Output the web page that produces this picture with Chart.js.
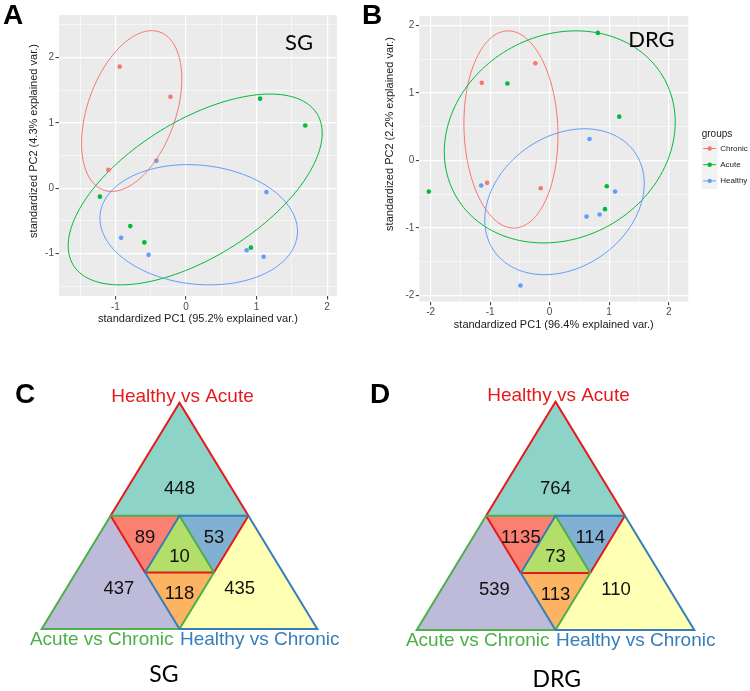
<!DOCTYPE html>
<html>
<head>
<meta charset="utf-8">
<script src="https://cdn.jsdelivr.net/npm/chart.js@4.4.1/dist/chart.umd.min.js"></script>
<style>
  html, body { margin: 0; padding: 0; background: #ffffff; }
  body { width: 750px; height: 691px; position: relative; overflow: hidden; }
  canvas { position: absolute; display: block; }
  .letter { position: absolute; font: bold 28px "Liberation Sans", Arial, sans-serif; line-height: 28px; color: #000; z-index: 5; }
</style>
</head>
<body>
<canvas id="cA" width="375" height="335" style="left:0;top:0"></canvas>
<canvas id="cB" width="375" height="335" style="left:375px;top:0"></canvas>
<canvas id="cC" width="375" height="356" style="left:0;top:335px"></canvas>
<canvas id="cD" width="375" height="356" style="left:375px;top:335px"></canvas>
<div class="letter" style="left:3px;top:1px">A</div>
<div class="letter" style="left:362px;top:1px">B</div>
<div class="letter" style="left:15px;top:380px">C</div>
<div class="letter" style="left:370px;top:380px">D</div>
<script>
// ---------------- DATA ----------------
const groupNames = ['Chronic', 'Acute', 'Healthy'];

// Panel A : SG PCA scores
const sgChronicX = [-0.94, -0.22, -1.10, -0.42];
const sgChronicY = [ 1.86,  1.40,  0.28,  0.42];
const sgAcuteX   = [-1.22, -0.79, -0.59, 0.92, 1.05, 1.69];
const sgAcuteY   = [-0.13, -0.58, -0.83, -0.91, 1.37, 0.96];
const sgHealthyX = [-0.92, -0.53, 0.86, 1.10, 1.14, -0.42];
const sgHealthyY = [-0.76, -1.02, -0.95, -1.05, -0.06, 0.42];
// ellipse summaries per group: [centre x, centre y, half-extent x, half-extent y, correlation]
const sgEllipseChronic = [-0.77, 1.18, 0.71, 1.23, 0.40];
const sgEllipseAcute   = [ 0.13, -0.02, 1.80, 1.46, 0.59];
const sgEllipseHealthy = [ 0.18, -0.56, 1.40, 0.92, -0.11];

// Panel B : DRG PCA scores
const drgChronicX = [-1.14, -0.24, -1.05, -0.15];
const drgChronicY = [ 1.15,  1.44, -0.33, -0.41];
const drgAcuteX   = [0.81, -0.71, 1.17, -2.03, 0.96, 0.93];
const drgAcuteY   = [1.89,  1.14, 0.65, -0.46, -0.38, -0.72];
const drgHealthyX = [0.67, -1.15, 1.10, 0.62, 0.84, -0.49];
const drgHealthyY = [0.32, -0.37, -0.46, -0.83, -0.80, -1.85];
const drgEllipseChronic = [-0.65, 0.46, 0.79, 1.46, -0.06];
const drgEllipseAcute   = [ 0.17, 0.35, 1.94, 1.57, 0.14];
const drgEllipseHealthy = [ 0.25, -0.61, 1.34, 1.08, 0.25];

// axis extents and titles
const sgRangeX = [-1.80, 2.14], sgRangeY = [-1.65, 2.65];
const drgRangeX = [-2.19, 2.33], drgRangeY = [-2.09, 2.14];
const sgTitleX = 'standardized PC1 (95.2% explained var.)';
const sgTitleY = 'standardized PC2 (4.3% explained var.)';
const drgTitleX = 'standardized PC1 (96.4% explained var.)';
const drgTitleY = 'standardized PC2 (2.2% explained var.)';

// Panels C, D : overlap diagrams
const vennSets = ['Healthy vs Acute', 'Acute vs Chronic', 'Healthy vs Chronic'];
const vennRegions = ['HA only', 'HA & AC', 'HA & HC', 'all three', 'AC only', 'AC & HC', 'HC only'];
const sgCounts  = [448, 89, 53, 10, 437, 118, 435];
const drgCounts = [764, 1135, 114, 73, 539, 113, 110];

// ---------------- STYLE / LAYOUT ----------------
const FONT = '"Liberation Sans", Arial, Helvetica, sans-serif';
const groupColors = ['#F8766D', '#00BA38', '#619CFF'];
Chart.defaults.font.family = FONT;

function pts(xs, ys) { return xs.map((x, i) => ({ x: x, y: ys[i] })); }
const isMajor = v => Math.abs(v - Math.round(v)) < 1e-9;

function axisCfg(range, fitFn, title) {
  const [mn, mx] = range;
  return {
    type: 'linear', min: mn, max: mx,
    afterBuildTicks: sc => {
      const t = [];
      for (let k = Math.ceil(mn * 2); k <= Math.floor(mx * 2); k++) t.push({ value: k / 2 });
      sc.ticks = t;
    },
    afterFit: fitFn,
    ticks: {
      autoSkip: false, maxRotation: 0, minRotation: 0, padding: 1.5,
      color: '#4D4D4D', font: { size: 10, family: FONT },
      callback: v => isMajor(v) ? String(Math.round(v)) : ''
    },
    grid: {
      drawTicks: true, tickLength: 3.5, tickWidth: 1,
      color: '#FFFFFF',
      lineWidth: c => (c.tick && isMajor(c.tick.value)) ? 1.2 : 0.55,
      tickColor: c => (c.tick && isMajor(c.tick.value)) ? '#333333' : 'rgba(0,0,0,0)'
    },
    border: { display: false },
    title: title ? { display: true, text: title, color: '#1a1a1a', font: { size: 11, family: FONT }, padding: { top: 2, bottom: 3 } } : { display: false }
  };
}

function pcaChart(id, series, ellipses, rx, ry, xTitle, yTitle, o) {
  const plugins = [{
    id: 'panelBg',
    beforeDraw(chart) {
      const { ctx, chartArea: a } = chart;
      ctx.save(); ctx.fillStyle = '#EBEBEB';
      ctx.fillRect(a.left, a.top, a.width, a.height); ctx.restore();
    }
  }, {
    id: 'ellipses',
    beforeDatasetsDraw(chart) {
      const { ctx, chartArea: a, scales: { x, y } } = chart;
      ctx.save();
      ctx.beginPath(); ctx.rect(a.left, a.top, a.width, a.height); ctx.clip();
      ellipses.forEach((e, i) => {
        const [cx, cy, sx, sy, r] = e;
        const k = Math.sqrt(1 - r * r);
        ctx.beginPath();
        for (let j = 0; j <= 160; j++) {
          const t = j / 160 * 2 * Math.PI;
          const px = x.getPixelForValue(cx + sx * Math.cos(t));
          const py = y.getPixelForValue(cy + sy * (r * Math.cos(t) + k * Math.sin(t)));
          if (j === 0) ctx.moveTo(px, py); else ctx.lineTo(px, py);
        }
        ctx.closePath();
        ctx.strokeStyle = groupColors[i]; ctx.lineWidth = 1; ctx.stroke();
      });
      ctx.restore();
    }
  }, {
    id: 'annot',
    afterDraw(chart) {
      const ctx = chart.ctx;
      ctx.save();
      // y axis title
      ctx.translate(o.yTitleX, o.yTitleY); ctx.rotate(-Math.PI / 2);
      ctx.font = '11px ' + FONT; ctx.fillStyle = '#1a1a1a';
      ctx.textAlign = 'center'; ctx.textBaseline = 'middle';
      ctx.fillText(yTitle, 0, 0);
      ctx.restore();
      // tissue tag
      ctx.save();
      ctx.font = '22px Lato, "Open Sans", sans-serif'; ctx.fillStyle = '#000';
      ctx.textAlign = 'center'; ctx.textBaseline = 'alphabetic';
      ctx.fillText(o.tag, o.tagX, o.tagY);
      ctx.restore();
      if (o.legend) {
        const lx = o.legend[0], ly = o.legend[1];
        ctx.save();
        ctx.font = '10px ' + FONT; ctx.fillStyle = '#1a1a1a'; ctx.textAlign = 'left'; ctx.textBaseline = 'alphabetic';
        ctx.fillText('groups', lx, ly);
        chart.data.datasets.forEach((d, i) => {
          const cy = ly + 12 + i * 16.2;
          ctx.fillStyle = '#F2F2F2'; ctx.fillRect(lx, cy - 8.1, 16, 16.2);
          ctx.strokeStyle = groupColors[i]; ctx.lineWidth = 1;
          ctx.beginPath(); ctx.moveTo(lx + 1.5, cy); ctx.lineTo(lx + 14.5, cy); ctx.stroke();
          ctx.fillStyle = groupColors[i];
          ctx.beginPath(); ctx.arc(lx + 8, cy, 2.2, 0, 2 * Math.PI); ctx.fill();
          ctx.fillStyle = '#1a1a1a'; ctx.font = '8px ' + FONT; ctx.textBaseline = 'middle';
          ctx.fillText(d.label, lx + 18.5, cy);
        });
        ctx.restore();
      }
    }
  }];

  return new Chart(document.getElementById(id), {
    type: 'scatter',
    data: {
      datasets: groupNames.map((g, i) => ({
        label: g,
        data: series[i],
        backgroundColor: groupColors[i],
        pointBackgroundColor: o.pointColor && o.pointColor[i] ? o.pointColor[i] : groupColors[i],
        pointRadius: 2.3, pointHoverRadius: 2.3, pointBorderWidth: 0,
        showLine: false
      }))
    },
    options: {
      responsive: false, animation: false, events: [],
      layout: { padding: o.padding },
      plugins: { legend: { display: false }, tooltip: { enabled: false } },
      scales: {
        x: axisCfg(rx, sc => { sc.height = o.xHeight; }, xTitle),
        y: axisCfg(ry, sc => { sc.width = o.yWidth; }, null)
      }
    },
    plugins: plugins
  });
}

// Panel A
pcaChart('cA',
  [pts(sgChronicX, sgChronicY), pts(sgAcuteX, sgAcuteY), pts(sgHealthyX, sgHealthyY)],
  [sgEllipseChronic, sgEllipseAcute, sgEllipseHealthy],
  sgRangeX, sgRangeY, sgTitleX, sgTitleY,
  {
    padding: { left: 27, top: 15, right: 38, bottom: 6 }, xHeight: 33, yWidth: 32,
    yTitleX: 34, yTitleY: 141, tag: 'SG', tagX: 299, tagY: 50,
    pointColor: [c => {
      const i = c.dataIndex;
      const shared = sgHealthyX.some((hx, j) => hx === sgChronicX[i] && sgHealthyY[j] === sgChronicY[i]);
      return shared ? 'rgba(248,118,109,0.35)' : '#F8766D';
    }]
  });

// Panel B
pcaChart('cB',
  [pts(drgChronicX, drgChronicY), pts(drgAcuteX, drgAcuteY), pts(drgHealthyX, drgHealthyY)],
  [drgEllipseChronic, drgEllipseAcute, drgEllipseHealthy],
  drgRangeX, drgRangeY, drgTitleX, drgTitleY,
  {
    padding: { left: 10, top: 16, right: 61.7, bottom: 0.3 }, xHeight: 33, yWidth: 34.3,
    yTitleX: 15, yTitleY: 134, tag: 'DRG', tagX: 276.4, tagY: 46.7,
    legend: [326.7, 136.5]
  });

// ---------------- Overlap triangles ----------------
const VERT = { T: [0.5, 1], BL: [0, 0], BR: [1, 0], ML: [0.25, 0.5], MR: [0.75, 0.5], MB: [0.5, 0],
               IT: [0.5, 0.5], IL: [0.375, 0.25], IR: [0.625, 0.25] };
const REGION_SHAPES = [
  { shape: ['T', 'ML', 'MR'], fill: '#8DD3C7', anchor: [0.5, 0.622] },
  { shape: ['ML', 'IT', 'IL'], fill: '#FB8072' },
  { shape: ['IT', 'MR', 'IR'], fill: '#80B1D3' },
  { shape: ['IT', 'IL', 'IR'], fill: '#B3DE69' },
  { shape: ['ML', 'BL', 'MB'], fill: '#BEBADA', anchor: [0.28, 0.18] },
  { shape: ['IL', 'IR', 'MB'], fill: '#FDB462' },
  { shape: ['MR', 'MB', 'BR'], fill: '#FFFFB3', anchor: [0.718, 0.18] }
];
const SET_OUTLINES = [
  { shape: ['T', 'ML', 'IL', 'IR', 'MR'], color: '#E41A1C' },
  { shape: ['BL', 'ML', 'IT', 'IR', 'MB'], color: '#4DAF4A' },
  { shape: ['BR', 'MR', 'IT', 'IL', 'MB'], color: '#377EB8' }
];

function vennChart(id, counts, name, o) {
  const plugin = {
    id: 'venn',
    afterDraw(chart) {
      const { ctx, scales: { x, y } } = chart;
      const P = k => [x.getPixelForValue(VERT[k][0]), y.getPixelForValue(VERT[k][1])];
      const path = shape => { ctx.beginPath(); shape.forEach((k, i) => { const p = P(k); if (i) ctx.lineTo(p[0], p[1]); else ctx.moveTo(p[0], p[1]); }); ctx.closePath(); };
      ctx.save();
      REGION_SHAPES.forEach(r => { path(r.shape); ctx.fillStyle = r.fill; ctx.fill(); });
      ctx.lineWidth = 2; ctx.lineJoin = 'miter';
      SET_OUTLINES.forEach(s => { path(s.shape); ctx.strokeStyle = s.color; ctx.stroke(); });
      // counts
      ctx.font = '18.5px ' + FONT; ctx.fillStyle = '#111'; ctx.textAlign = 'center'; ctx.textBaseline = 'middle';
      counts.forEach((c, i) => {
        const r = REGION_SHAPES[i];
        let ax, ay;
        if (r.anchor) { ax = x.getPixelForValue(r.anchor[0]); ay = y.getPixelForValue(r.anchor[1]); }
        else {
          ax = r.shape.reduce((s, k) => s + P(k)[0], 0) / r.shape.length;
          ay = r.shape.reduce((s, k) => s + P(k)[1], 0) / r.shape.length + 2;
        }
        ctx.fillText(String(c), ax, ay + 1);
      });
      // set names
      const T = P('T'), MB = P('MB');
      ctx.font = '19px ' + FONT; ctx.textBaseline = 'alphabetic';
      ctx.fillStyle = SET_OUTLINES[0].color; ctx.textAlign = 'center';
      ctx.fillText(vennSets[0], T[0] + 3, T[1] - 0.5);
      ctx.fillStyle = SET_OUTLINES[1].color; ctx.textAlign = 'right';
      ctx.fillText(vennSets[1], MB[0] - 6, MB[1] + 16);
      ctx.fillStyle = SET_OUTLINES[2].color; ctx.textAlign = 'left';
      ctx.fillText(vennSets[2], MB[0] + 0.5, MB[1] + 16);
      // tissue name
      ctx.font = '23px Lato, "Open Sans", sans-serif'; ctx.fillStyle = '#000'; ctx.textAlign = 'center';
      ctx.fillText(name, o.nameX, o.nameY);
      ctx.restore();
    }
  };
  return new Chart(document.getElementById(id), {
    type: 'scatter',
    data: { labels: vennRegions, datasets: [] },
    options: {
      responsive: false, animation: false, events: [],
      layout: { padding: o.padding },
      plugins: { legend: { display: false }, tooltip: { enabled: false } },
      scales: {
        x: { type: 'linear', min: 0, max: 1, display: false },
        y: { type: 'linear', min: 0, max: 1, display: false }
      }
    },
    plugins: [plugin]
  });
}

vennChart('cC', sgCounts, 'SG', { padding: { left: 41.7, right: 57.7, top: 67.7, bottom: 62 }, nameX: 164, nameY: 346.7 });
vennChart('cD', drgCounts, 'DRG', { padding: { left: 41.7, right: 55.7, top: 66.7, bottom: 61 }, nameX: 181.7, nameY: 351.7 });
</script>
</body>
</html>
